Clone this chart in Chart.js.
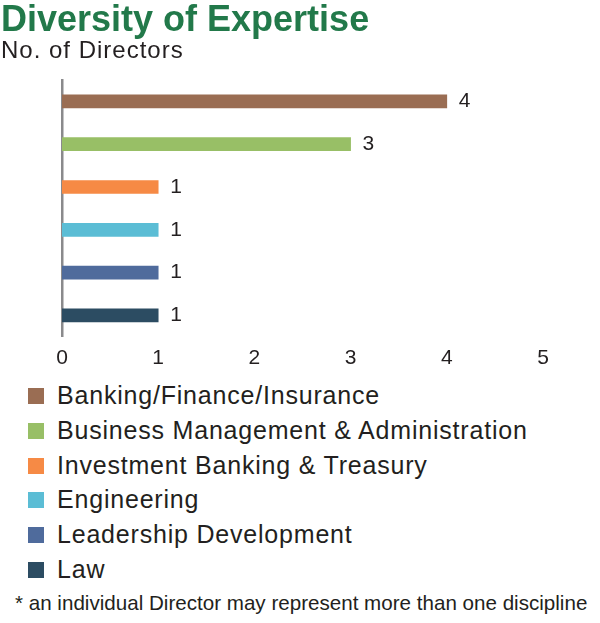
<!DOCTYPE html>
<html>
<head>
<meta charset="utf-8">
<script src="https://cdn.jsdelivr.net/npm/chart.js@4"></script>
<style>
  html, body { margin:0; padding:0; background:#fff; }
  body { width:600px; height:623px; position:relative; overflow:hidden; font-family:"Liberation Sans", Arial, sans-serif; color:#231f20; }
  #title { position:absolute; left:1px; top:-2px; font-family:"Liberation Sans Narrow","Liberation Sans",sans-serif; font-weight:bold; font-size:36px; color:#22794a; white-space:nowrap; }
  #subtitle { position:absolute; left:1px; top:36px; font-size:24px; letter-spacing:1px; white-space:nowrap; }
  #chartWrap { position:absolute; left:0; top:0; width:600px; height:380px; }
  #legend { position:absolute; left:0; top:380px; width:600px; }
  .li { position:absolute; left:0; height:30px; white-space:nowrap; }
  .sw { position:absolute; left:28px; width:16px; height:16px; }
  .lt { position:absolute; left:57px; font-size:25px; letter-spacing:0.8px; line-height:30px; }
  #note { position:absolute; left:15px; top:591px; font-family:"Liberation Sans Narrow","Liberation Sans",sans-serif; font-size:20.6px; white-space:nowrap; }
</style>
</head>
<body>
<div id="chartWrap"><canvas id="c" width="600" height="380"></canvas></div>
<div id="title">Diversity of Expertise</div>
<div id="subtitle">No. of Directors</div>
<div id="legend"></div>
<div id="note">* an individual Director may represent more than one discipline</div>
<script>
const categories = ["Banking/Finance/Insurance","Business Management & Administration","Investment Banking & Treasury","Engineering","Leadership Development","Law"];
const values = [4, 3, 1, 1, 1, 1];
const colors = ["#9a6d53","#98bf66","#f68a45","#5bbdd5","#4f6b9c","#2c4c62"];
const xTicks = [0, 1, 2, 3, 4, 5];

// HTML legend
const leg = document.getElementById('legend');
categories.forEach((c, i) => {
  const row = document.createElement('div');
  row.className = 'li';
  row.style.top = (i * 34.8) + 'px';
  const sw = document.createElement('div');
  sw.className = 'sw';
  sw.style.background = colors[i];
  sw.style.top = '8px';
  const t = document.createElement('div');
  t.className = 'lt';
  t.textContent = c;
  row.appendChild(sw); row.appendChild(t);
  leg.appendChild(row);
});

const valueLabels = {
  id: 'valueLabels',
  afterDatasetsDraw(chart) {
    const ctx = chart.ctx;
    const meta = chart.getDatasetMeta(0);
    ctx.save();
    ctx.font = '21px "Liberation Sans", Arial, sans-serif';
    ctx.fillStyle = '#231f20';
    ctx.textBaseline = 'middle';
    ctx.textAlign = 'left';
    meta.data.forEach((bar, i) => {
      ctx.fillText(String(values[i]), bar.x + 12, bar.y);
    });
    ctx.restore();
  }
};

new Chart(document.getElementById('c'), {
  type: 'bar',
  data: {
    labels: categories,
    datasets: [{ data: values, backgroundColor: colors, barThickness: 13, borderWidth: 0 }]
  },
  options: {
    indexAxis: 'y',
    responsive: false,
    animation: false,
    devicePixelRatio: 1,
    layout: { padding: { top: 80, left: 62, right: 57, bottom: 0 } },
    plugins: { legend: { display: false }, tooltip: { enabled: false }, title: { display: false } },
    scales: {
      x: {
        min: 0, max: 5,
        afterBuildTicks(axis) { axis.ticks = xTicks.map(v => ({ value: v })); },
        grid: { display: false, drawTicks: false },
        border: { display: false },
        ticks: { padding: 9, color: '#231f20', font: { family: '"Liberation Sans", Arial, sans-serif', size: 21 } }
      },
      y: {
        grid: { display: false, drawTicks: false },
        border: { display: true, color: '#8a8a8c', width: 2.5 },
        ticks: { display: false }
      }
    }
  },
  plugins: [valueLabels]
});
</script>
</body>
</html>
